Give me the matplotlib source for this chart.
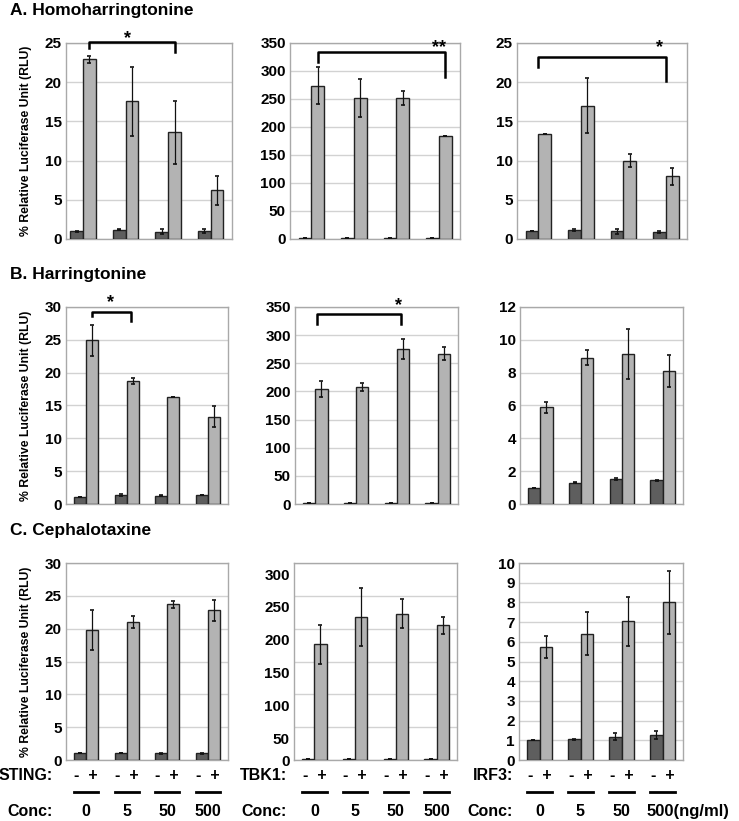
import matplotlib
matplotlib.use('Agg')
import matplotlib.pyplot as plt
import matplotlib.transforms as mtransforms
import numpy as np

plt.rcParams['font.family'] = ['Liberation Sans', 'DejaVu Sans']
plt.rcParams['font.weight'] = 'bold'

# ---- data ----
conc_labels = ['0', '5', '50', '500']
proteins = ['STING', 'TBK1', 'IRF3']
drugs = ['A. Homoharringtonine', 'B. Harringtonine', 'C. Cephalotaxine']

# row A: Homoharringtonine
hht_sting_minus = [1.0, 1.2, 0.95, 1.0]
hht_sting_minus_err = [0.05, 0.1, 0.3, 0.25]
hht_sting_plus = [22.9, 17.6, 13.6, 6.2]
hht_sting_plus_err = [0.5, 4.4, 4.05, 1.85]
hht_tbk1_minus = [1.0, 1.0, 1.0, 1.0]
hht_tbk1_minus_err = [0, 0, 0, 0]
hht_tbk1_plus = [274, 251, 252, 184]
hht_tbk1_plus_err = [33, 34, 12, 0.5]
hht_irf3_minus = [1.05, 1.15, 1.0, 0.9]
hht_irf3_minus_err = [0.0, 0.15, 0.3, 0.1]
hht_irf3_plus = [13.4, 17.0, 10.0, 8.0]
hht_irf3_plus_err = [0.05, 3.5, 0.8, 1.1]

# row B: Harringtonine
ht_sting_minus = [1.0, 1.3, 1.27, 1.4]
ht_sting_minus_err = [0, 0.15, 0.05, 0.03]
ht_sting_plus = [24.9, 18.7, 16.3, 13.25]
ht_sting_plus_err = [2.3, 0.5, 0, 1.6]
ht_tbk1_minus = [1.0, 1.0, 1.0, 1.0]
ht_tbk1_minus_err = [0, 0, 0, 0]
ht_tbk1_plus = [204, 208, 275, 267]
ht_tbk1_plus_err = [14.5, 7, 18, 12]
ht_irf3_minus = [1.0, 1.3, 1.52, 1.44]
ht_irf3_minus_err = [0, 0.05, 0.08, 0.02]
ht_irf3_plus = [5.9, 8.9, 9.14, 8.1]
ht_irf3_plus_err = [0.33, 0.46, 1.5, 1.0]

# row C: Cephalotaxine
cet_sting_minus = [1.0, 1.0, 1.0, 1.0]
cet_sting_minus_err = [0, 0, 0.05, 0.03]
cet_sting_plus = [19.8, 21.05, 23.7, 22.8]
cet_sting_plus_err = [3.0, 0.95, 0.5, 1.6]
cet_tbk1_minus = [1.0, 1.0, 1.0, 1.0]
cet_tbk1_minus_err = [0, 0, 0, 0]
cet_tbk1_plus = [176, 218, 223, 205]
cet_tbk1_plus_err = [30, 44, 22.5, 12.5]
cet_irf3_minus = [1.01, 1.06, 1.18, 1.27]
cet_irf3_minus_err = [0, 0.03, 0.18, 0.2]
cet_irf3_plus = [5.74, 6.42, 7.04, 8.0]
cet_irf3_plus_err = [0.57, 1.07, 1.25, 1.6]

panels = [
    [(hht_sting_minus, hht_sting_minus_err, hht_sting_plus, hht_sting_plus_err),
     (hht_tbk1_minus, hht_tbk1_minus_err, hht_tbk1_plus, hht_tbk1_plus_err),
     (hht_irf3_minus, hht_irf3_minus_err, hht_irf3_plus, hht_irf3_plus_err)],
    [(ht_sting_minus, ht_sting_minus_err, ht_sting_plus, ht_sting_plus_err),
     (ht_tbk1_minus, ht_tbk1_minus_err, ht_tbk1_plus, ht_tbk1_plus_err),
     (ht_irf3_minus, ht_irf3_minus_err, ht_irf3_plus, ht_irf3_plus_err)],
    [(cet_sting_minus, cet_sting_minus_err, cet_sting_plus, cet_sting_plus_err),
     (cet_tbk1_minus, cet_tbk1_minus_err, cet_tbk1_plus, cet_tbk1_plus_err),
     (cet_irf3_minus, cet_irf3_minus_err, cet_irf3_plus, cet_irf3_plus_err)],
]

ymax = [[25, 350, 25], [30, 350, 12], [30, 300, 10]]
ystep = [[5, 50, 5], [5, 50, 2], [5, 50, 1]]

# significance brackets: (row, col, x1, x2, y_line, y_leg1, y_leg2, text, text_x, text_y)
brackets = [
    (0, 0, 0.15, 2.15, 25.1, 24.3, 23.8, '*', 1.05, 25.6),
    (0, 1, 0.15, 3.15, 334, 316, 290, '**', 3.0, 342),
    (0, 2, 0.0, 3.0, 23.2, 21.9, 20.1, '*', 2.85, 24.4),
    (1, 0, 0.15, 1.1, 29.2, 28.6, 27.9, '*', 0.6, 30.6),
    (1, 1, 0.05, 2.1, 338, 320, 320, '*', 2.05, 352),
]

# ---- layout in pixels ----
W, H = 739, 821
fig = plt.figure(figsize=(W / 100, H / 100), dpi=100)

boxes = [
    [(66, 43, 232, 239), (290, 43, 460, 239), (517, 43, 687, 239)],
    [(66, 307, 228, 504), (295, 307, 458, 504), (520, 307, 683, 504)],
    [(66, 563, 228, 760), (294, 563, 457, 760), (519, 563, 683, 760)],
]
xlims = [[(-0.4, 3.5), (-0.5, 3.5), (-0.5, 3.5)],
         [(-0.5, 3.5), (-0.5, 3.5), (-0.5, 3.5)],
         [(-0.5, 3.5), (-0.5, 3.5), (-0.5, 3.5)]]
title_y = [11, 275, 531]

dark = '#5e5e5e'
light = '#b3b3b3'
frame = '#a9a9a9'
grid = '#d2d2d2'
bw = 0.3
x = np.arange(4)

axes = []
for r in range(3):
    row_axes = []
    for c in range(3):
        l, t, rr, b = boxes[r][c]
        ax = fig.add_axes([l / W, 1 - b / H, (rr - l) / W, (b - t) / H])
        mn, mn_err, pl, pl_err = panels[r][c]
        ax.bar(x - bw / 2, mn, bw, color=dark, edgecolor='#222222', linewidth=1, zorder=3)
        ax.bar(x + bw / 2, pl, bw, color=light, edgecolor='#222222', linewidth=1, zorder=3)
        ax.errorbar(x - bw / 2, mn, yerr=mn_err, fmt='none', ecolor='#111111',
                    elinewidth=0.9, capsize=1.5, capthick=1.2, zorder=4)
        ax.errorbar(x + bw / 2, pl, yerr=pl_err, fmt='none', ecolor='#111111',
                    elinewidth=0.9, capsize=1.5, capthick=1.2, zorder=4)
        ax.set_xlim(*xlims[r][c])
        ax.set_ylim(0, ymax[r][c])
        ax.set_yticks(np.arange(0, ymax[r][c] + 0.01, ystep[r][c]))
        ax.set_xticks([])
        ax.yaxis.grid(True, color=grid, linewidth=1, zorder=0)
        ax.tick_params(axis='y', length=0, labelsize=11, pad=3)
        for lab in ax.get_yticklabels():
            lab.set_fontweight('bold')
        for s in ax.spines.values():
            s.set_color(frame)
            s.set_linewidth(1)
        if c == 0:
            ax.set_ylabel('% Relative Luciferase Unit (RLU)', fontsize=8.8,
                          fontweight='bold', labelpad=9)
        row_axes.append(ax)
    axes.append(row_axes)
    fig.text(10 / W, 1 - title_y[r] / H, drugs[r], fontsize=12.5, fontweight='bold',
             ha='left', va='center')

# the TBK1 panel in row C has its tick labels printed slightly low
offset = mtransforms.ScaledTranslation(0, -0.11, fig.dpi_scale_trans)
for lab in axes[2][1].get_yticklabels()[1:]:
    lab.set_transform(lab.get_transform() + offset)

for (r, c, x1, x2, yl, y1, y2, txt, tx, ty) in brackets:
    ax = axes[r][c]
    ax.plot([x1, x1, x2, x2], [y1, yl, yl, y2], color='black', linewidth=1.8,
            clip_on=False, zorder=5)
    ax.text(tx, ty, txt, ha='center', va='center', fontsize=13, fontweight='bold',
            clip_on=False)

# bottom labels
label_right = [53, 287, 513]
for c in range(3):
    ax = axes[2][c]
    fig.text(label_right[c] / W, 1 - 775 / H, proteins[c] + ':', ha='right', va='center',
             fontsize=11.5, fontweight='bold')
    fig.text(label_right[c] / W, 1 - 811 / H, 'Conc:', ha='right', va='center',
             fontsize=11.5, fontweight='bold')
    tr = mtransforms.blended_transform_factory(ax.transData, fig.transFigure)
    for i in range(4):
        ax.text(x[i], 1 - 775 / H, '-  +', transform=tr, ha='center', va='center',
                fontsize=11.5, fontweight='bold', clip_on=False)
        ax.plot([x[i] - 0.3, x[i] + 0.3], [1 - 792 / H] * 2, transform=tr, color='black',
                linewidth=2, clip_on=False)
        lab = conc_labels[i]
        if c == 2 and i == 3:
            ax.text(x[i] - 0.4, 1 - 811 / H, lab + '(ng/ml)', transform=tr, ha='left',
                    va='center', fontsize=12, fontweight='bold', clip_on=False)
        else:
            ax.text(x[i], 1 - 811 / H, lab, transform=tr, ha='center', va='center',
                    fontsize=11.5, fontweight='bold', clip_on=False)

fig.savefig('out.png', dpi=100)
